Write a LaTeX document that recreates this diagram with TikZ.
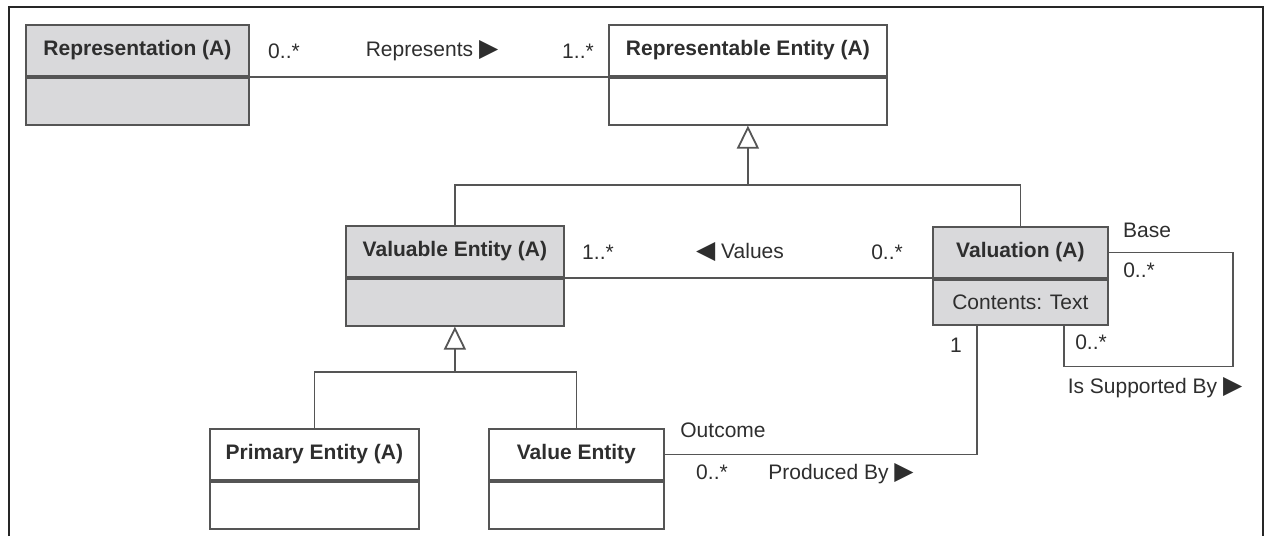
\documentclass[tikz,border=0pt]{standalone}
\usepackage{fontspec}
\setmainfont{Liberation Sans}
\newfontfamily\symfont{DejaVu Sans}
\usetikzlibrary{arrows.meta}
\definecolor{linegray}{HTML}{555555}
\definecolor{textgray}{HTML}{2E2E2E}
\definecolor{boxgray}{HTML}{D9D9DB}
\newcommand\tri[1]{{\symfont\fontsize{25}{25}\selectfont #1}}

\begin{document}
\begin{tikzpicture}[
    x=1pt, y=-1pt,
    every node/.style={font=\fontsize{21}{25}\selectfont, text=textgray},
    classname/.style={draw=linegray, line width=1.8pt, anchor=north west, minimum height=51pt, inner sep=0pt, font=\fontsize{21}{25}\selectfont\bfseries},
    classattr/.style={draw=linegray, line width=1.8pt, anchor=north, minimum height=47pt, inner sep=0pt},
    abstract/.style={fill=boxgray},
    assoc/.style={draw=linegray, line width=1.8pt},
    generalise/.style={assoc, -{Triangle[open, length=23pt, width=22pt]}},
    tag/.style={inner sep=0pt}
  ]
    \useasboundingbox (0,0) rectangle (1266,536);

    % Frame
    \draw[line width=2pt, black!85] (9,536) |- (1263,7) -- (1263,536);

    % Classes
    \node[classname, abstract, minimum width=223pt] (repr) at (25,24) {Representation (A)};
    \node[classattr, abstract, minimum width=223pt] (repr-a) at (repr.south) {};
    \node[classname, minimum width=278pt] (rent) at (608,24) {Representable Entity (A)};
    \node[classattr, minimum width=278pt] (rent-a) at (rent.south) {};
    \node[classname, abstract, minimum width=218pt] (vent) at (345,225) {Valuable Entity (A)};
    \node[classattr, abstract, minimum width=218pt] (vent-a) at (vent.south) {};
    \node[classname, abstract, minimum width=175pt] (valn) at (932,226) {Valuation (A)};
    \node[classattr, abstract, minimum width=175pt, minimum height=45pt] (valn-a) at (valn.south) {Contents: Text};
    \node[classname, minimum width=209pt] (prim) at (209,428) {Primary Entity (A)};
    \node[classattr, minimum width=209pt] (prim-a) at (prim.south) {};
    \node[classname, minimum width=175pt] (vale) at (488,428) {Value Entity};
    \node[classattr, minimum width=175pt] (vale-a) at (vale.south) {};

    % Generalisations
    \coordinate (upjoin) at (rent-a.south |- 0,185);
    \draw[assoc] (vent.north) |- (upjoin) -| (valn.north);
    \draw[generalise] (upjoin) -- (rent-a.south);
    \coordinate (lowjoin) at (vent-a.south |- 0,372);
    \draw[assoc] (prim.north) |- (lowjoin) -| (vale.north);
    \draw[generalise] (lowjoin) -- (vent-a.south);

    % Associations
    \draw[assoc] (repr.south east) -- (rent.south west);
    \draw[assoc] (vent.south east) -- (vent.south east -| valn.west);
    \draw[assoc] (vale.east) -| ([xshift=-43.5pt]valn-a.south);
    \draw[assoc] (valn.east) -- ++(124,0) -- ++(0,114) -| ([xshift=43.5pt]valn-a.south);

    % Multiplicities
    \foreach \p/\t [count=\k] in {{(284,51)}/0..*, {(578,51)}/1..*, {(598,252)}/1..*,
        {(887,252)}/0..*, {(1139,270)}/0..*, {(1091,342)}/0..*, {(956,345)}/1, {(712,472)}/0..*}
      \node[tag] (mult\k) at \p {\t};

    % Role and association names
    \node[tag] (represents) at (432,51) {Represents \tri{▶}};
    \node[tag] (values) at (740,252) {\tri{◀} Values};
    \node[tag] (base) at (1147,230) {Base};
    \node[tag] (supported) at (1155,388) {Is Supported By \tri{▶}};
    \node[tag] (outcome) at (723,430) {Outcome};
    \node[tag] (produced) at (841,474) {Produced By \tri{▶}};

  \end{tikzpicture}
\end{document}
